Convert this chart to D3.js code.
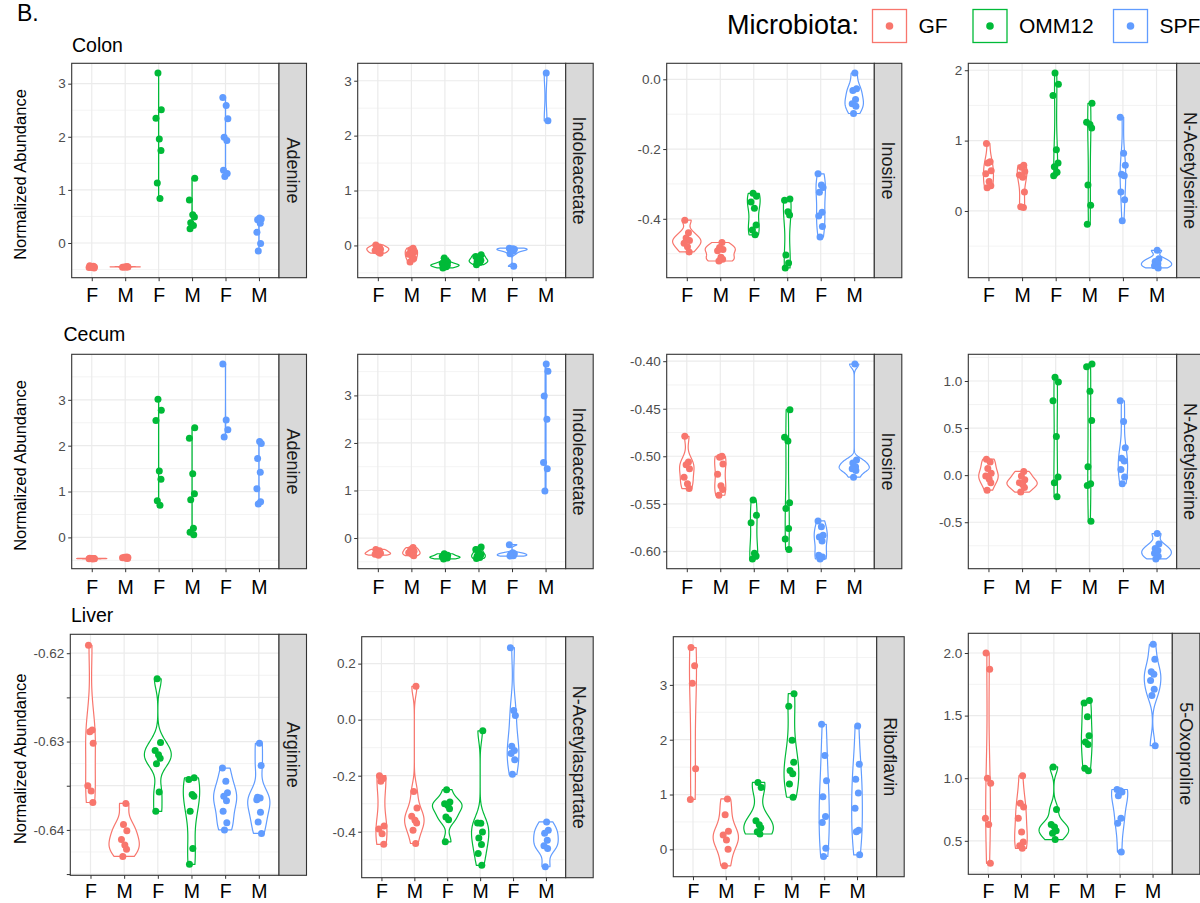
<!DOCTYPE html>
<html><head><meta charset="utf-8">
<script src="https://cdn.jsdelivr.net/npm/d3@7"></script>
<style>body{margin:0;background:#fff} svg{display:block} text{font-family:"Liberation Sans",Arial,Helvetica,sans-serif}</style>
</head><body><svg id="chart" width="1200" height="903"></svg>
<script>
const tissues = ["Colon", "Cecum", "Liver"];
const microbiota = ["GF", "OMM12", "SPF"];
const sexes = ["F", "M"];
const colors = ["#F8766D", "#00BA38", "#619CFF"];
const metabolites = [
  ["Adenine", "Indoleacetate", "Inosine", "N-Acetylserine"],
  ["Adenine", "Indoleacetate", "Inosine", "N-Acetylserine"],
  ["Arginine", "N-Acetylaspartate", "Riboflavin", "5-Oxoproline"]
];

// groups in order: GF-F, GF-M, OMM12-F, OMM12-M, SPF-F, SPF-M
const colonAdenine = [
  [-0.43,-0.44,-0.45,-0.45,-0.46,-0.46,-0.47],
  [-0.445,-0.45,-0.45,-0.455,-0.45,-0.445],
  [3.2,2.51,2.35,1.96,1.74,1.13,0.84],
  [1.22,0.81,0.53,0.49,0.38,0.33,0.27],
  [2.74,2.59,2.34,1.99,1.93,1.37,1.31,1.25],
  [0.47,0.45,0.44,0.37,0.2,-0.01,-0.15]
];
const colonIndoleacetate = [
  [0.01,-0.03,-0.05,-0.07,-0.09,-0.12,-0.14],
  [-0.05,-0.08,-0.12,-0.16,-0.2,-0.24,-0.3],
  [-0.23,-0.3,-0.33,-0.35,-0.36,-0.37,-0.39,-0.41],
  [-0.17,-0.2,-0.24,-0.27,-0.29,-0.31,-0.35],
  [-0.05,-0.06,-0.07,-0.08,-0.1,-0.15,-0.38],
  [3.14,2.27]
];
const colonInosine = [
  [-0.404,-0.44,-0.455,-0.462,-0.47,-0.48,-0.495],
  [-0.468,-0.482,-0.488,-0.492,-0.51,-0.516,-0.521],
  [-0.327,-0.335,-0.352,-0.37,-0.418,-0.432,-0.446],
  [-0.343,-0.347,-0.38,-0.389,-0.504,-0.527,-0.541],
  [-0.271,-0.303,-0.31,-0.324,-0.381,-0.392,-0.422,-0.452],
  [0.018,-0.027,-0.032,-0.058,-0.07,-0.077,-0.098]
];
const colonAcetylserine = [
  [0.96,0.7,0.68,0.57,0.53,0.42,0.36,0.33],
  [0.65,0.62,0.56,0.51,0.48,0.27,0.06,0.05],
  [1.96,1.8,1.64,0.87,0.68,0.63,0.55,0.5],
  [1.53,1.26,1.23,1.18,0.37,0.08,-0.19],
  [1.33,0.82,0.65,0.52,0.5,0.27,0.16,-0.14],
  [-0.56,-0.68,-0.72,-0.75,-0.78,-0.81]
];
const cecumAdenine = [
  [-0.455,-0.46,-0.46,-0.465,-0.465,-0.47,-0.46],
  [-0.425,-0.435,-0.44,-0.445,-0.455,-0.46],
  [3.01,2.77,2.55,1.45,1.27,0.8,0.7],
  [2.39,2.16,1.39,0.95,0.82,0.2,0.11,0.06],
  [3.78,2.56,2.35,2.19],
  [2.09,2.05,1.72,1.42,1.06,0.78,0.73]
];
const cecumIndoleacetate = [
  [-0.24,-0.27,-0.3,-0.32,-0.34,-0.36],
  [-0.2,-0.24,-0.28,-0.31,-0.34,-0.37],
  [-0.33,-0.36,-0.39,-0.4,-0.42,-0.44],
  [-0.19,-0.24,-0.31,-0.35,-0.38,-0.41,-0.43],
  [-0.14,-0.31,-0.33,-0.35,-0.37,-0.38],
  [3.66,3.51,2.99,2.5,1.59,1.46,0.99]
];
const cecumInosine = [
  [-0.479,-0.506,-0.509,-0.513,-0.522,-0.529,-0.534],
  [-0.5,-0.501,-0.508,-0.519,-0.531,-0.535,-0.541],
  [-0.546,-0.562,-0.57,-0.602,-0.605,-0.608],
  [-0.451,-0.48,-0.484,-0.549,-0.555,-0.576,-0.587,-0.598],
  [-0.568,-0.574,-0.583,-0.585,-0.589,-0.604,-0.606,-0.608],
  [-0.403,-0.504,-0.507,-0.511,-0.513,-0.515,-0.522]
];
const cecumAcetylserine = [
  [0.17,0.14,0.07,0.02,-0.01,-0.04,-0.08,-0.16],
  [0.04,-0.01,-0.05,-0.08,-0.1,-0.13,-0.18],
  [1.04,0.99,0.79,0.41,-0.02,-0.08,-0.23],
  [1.18,1.15,0.89,0.58,0.09,-0.09,-0.11,-0.49],
  [0.79,0.57,0.29,0.18,0.15,0.06,-0.02,-0.09],
  [-0.62,-0.73,-0.78,-0.8,-0.83,-0.86,-0.89]
];
const liverArginine = [
  [-0.6191,-0.6287,-0.6289,-0.6302,-0.635,-0.6356,-0.6369],
  [-0.637,-0.6394,-0.6401,-0.6411,-0.6417,-0.6422,-0.643],
  [-0.6229,-0.6301,-0.631,-0.6315,-0.6319,-0.6325,-0.6357,-0.6379],
  [-0.6341,-0.6343,-0.636,-0.6362,-0.6379,-0.6421,-0.6439],
  [-0.633,-0.6345,-0.6358,-0.6362,-0.6367,-0.6379,-0.6392,-0.64],
  [-0.6302,-0.6327,-0.6363,-0.6364,-0.6366,-0.638,-0.6391,-0.6404]
];
const liverAcetylaspartate = [
  [-0.2,-0.21,-0.22,-0.38,-0.39,-0.407,-0.445],
  [0.119,-0.256,-0.315,-0.345,-0.359,-0.369,-0.395,-0.442],
  [-0.25,-0.294,-0.3,-0.306,-0.318,-0.347,-0.357,-0.436],
  [-0.04,-0.369,-0.37,-0.401,-0.422,-0.446,-0.478,-0.52],
  [0.257,0.033,0.015,-0.095,-0.11,-0.121,-0.143,-0.195],
  [-0.365,-0.395,-0.405,-0.43,-0.45,-0.46,-0.525]
];
const liverRiboflavin = [
  [3.68,3.35,3.03,1.47,0.91],
  [0.92,0.63,0.33,0.26,0.17,0.0,-0.3],
  [1.22,1.13,0.52,0.45,0.39,0.32,0.28],
  [2.84,2.61,1.99,1.59,1.44,1.38,1.19,0.95],
  [2.28,1.71,1.25,0.96,0.6,0.49,0.02,-0.13],
  [2.25,1.55,1.28,1.03,0.75,0.35,0.32,-0.1]
];
const liverOxoproline = [
  [2.0,1.87,1.0,0.96,0.68,0.63,0.32],
  [1.02,0.8,0.77,0.68,0.57,0.49,0.46,0.44],
  [1.09,0.75,0.63,0.61,0.58,0.56,0.51],
  [1.62,1.6,1.49,1.34,1.29,1.27,1.08,1.06],
  [0.91,0.9,0.89,0.86,0.68,0.64,0.41],
  [2.07,1.95,1.85,1.83,1.78,1.71,1.66,1.26]
];

// y-axis tick values and labels
const ticksInt03 = [0, 1, 2, 3];
const labelsInt03 = ["0", "1", "2", "3"];
const colonInosineTicks = [-0.4, -0.2, 0.0];
const colonInosineLabels = ["-0.4", "-0.2", "0.0"];
const colonAcetylserineTicks = [0, 1, 2];
const colonAcetylserineLabels = ["0", "1", "2"];
const cecumInosineTicks = [-0.6, -0.55, -0.5, -0.45, -0.4];
const cecumInosineLabels = ["-0.60", "-0.55", "-0.50", "-0.45", "-0.40"];
const cecumAcetylserineTicks = [-0.5, 0, 0.5, 1.0];
const cecumAcetylserineLabels = ["-0.5", "0.0", "0.5", "1.0"];
const liverArginineTicks = [-0.645, -0.64, -0.635, -0.63, -0.625, -0.62];
const liverArginineLabels = ["", "-0.64", "", "-0.63", "", "-0.62"];
const liverAcetylaspartateTicks = [-0.4, -0.2, 0.0, 0.2];
const liverAcetylaspartateLabels = ["-0.4", "-0.2", "0.0", "0.2"];
const liverOxoprolineTicks = [0.5, 1.0, 1.5, 2.0];
const liverOxoprolineLabels = ["0.5", "1.0", "1.5", "2.0"];

const panelData = [
  [colonAdenine, colonIndoleacetate, colonInosine, colonAcetylserine],
  [cecumAdenine, cecumIndoleacetate, cecumInosine, cecumAcetylserine],
  [liverArginine, liverAcetylaspartate, liverRiboflavin, liverOxoproline]
];
const panelTicks = [
  [[ticksInt03, labelsInt03], [ticksInt03, labelsInt03], [colonInosineTicks, colonInosineLabels], [colonAcetylserineTicks, colonAcetylserineLabels]],
  [[ticksInt03, labelsInt03], [ticksInt03, labelsInt03], [cecumInosineTicks, cecumInosineLabels], [cecumAcetylserineTicks, cecumAcetylserineLabels]],
  [[liverArginineTicks, liverArginineLabels], [liverAcetylaspartateTicks, liverAcetylaspartateLabels], [ticksInt03, labelsInt03], [liverOxoprolineTicks, liverOxoprolineLabels]]
];

// layout (pixel boxes of plot panels: x0, x1, y0, y1)
const layout = [
  [[71.7,279,63.3,277.7],[357.7,565.7,63.3,277.7],[666.7,874.3,63.3,277.7],[968.3,1176.7,63.3,277.7]],
  [[71.7,279,354.3,568.7],[357.7,565.7,354.3,568.7],[666.7,874.3,354.3,568.7],[968.3,1176.7,354.3,568.7]],
  [[70.3,279,634.3,875.3],[361.7,565.7,636.7,877.7],[673.3,876.7,636.7,876.7],[968.3,1172.3,633.3,874.3]]
];
const xLabelBaseline = [302, 594, 898];
const titlePos = [[72, 52], [63.5, 341], [71, 622]];
const stripW = 27.5;
const jitter = [-0.06, 0.05, -0.02, 0.08, -0.08, 0.02, 0.07, -0.04, 0.04];

const svg = d3.select("#chart");
svg.append("rect").attr("width", 1200).attr("height", 903).attr("fill", "#fff");

const groupKeys = [];
microbiota.forEach((m, mi) => sexes.forEach(s => groupKeys.push({key: m + "-" + s, sex: s, mi})));

function kde(vals) {
  const s = vals.slice().sort(d3.ascending);
  const n = s.length;
  const sd = d3.deviation(s);
  const iqr = d3.quantile(s, 0.75) - d3.quantile(s, 0.25);
  let lo = Math.min(sd, iqr / 1.34);
  if (!(lo > 0)) lo = sd > 0 ? sd : (Math.abs(s[0]) || 1);
  const bw = 0.9 * lo * Math.pow(n, -0.2);
  const m = 512;
  return d3.range(m).map(i => {
    const y = s[0] + (s[n - 1] - s[0]) * i / (m - 1);
    const d = d3.sum(s, xi => Math.exp(-0.5 * ((y - xi) / bw) ** 2)) / (n * bw * Math.sqrt(2 * Math.PI));
    return {y, d};
  });
}

function drawPanel(r, c) {
  const [x0, x1, y0, y1] = layout[r][c];
  const data = panelData[r][c];
  const [ticks, labels] = panelTicks[r][c];
  const all = data.flat();
  const lo = d3.min(all), hi = d3.max(all);
  const pad = (hi - lo) * 0.05;
  const y = d3.scaleLinear().domain([lo - pad, hi + pad]).range([y1, y0]);
  const x = d3.scalePoint().domain(groupKeys.map(g => g.key)).range([x0, x1]).padding(0.6);
  const step = x.step();
  const g = svg.append("g");

  // grid
  const tstep = ticks[1] - ticks[0];
  const minor = [];
  for (let v = ticks[0] - tstep / 2; v <= hi + pad + 1e-9; v += tstep) if (v >= lo - pad) minor.push(v);
  g.selectAll(".mn").data(minor).join("line")
    .attr("x1", x0).attr("x2", x1).attr("y1", d => y(d)).attr("y2", d => y(d))
    .attr("stroke", "#EBEBEB").attr("stroke-width", 0.6);
  g.selectAll(".mj").data(ticks).join("line")
    .attr("x1", x0).attr("x2", x1).attr("y1", d => y(d)).attr("y2", d => y(d))
    .attr("stroke", "#EBEBEB").attr("stroke-width", 1.2);
  g.selectAll(".vx").data(groupKeys).join("line")
    .attr("x1", d => x(d.key)).attr("x2", d => x(d.key)).attr("y1", y0).attr("y2", y1)
    .attr("stroke", "#EBEBEB").attr("stroke-width", 1.2);

  // violins
  const dens = data.map(kde);
  const maxD = d3.max(dens, a => d3.max(a, p => p.d));
  groupKeys.forEach((gk, i) => {
    const cx = x(gk.key);
    const area = d3.area()
      .y(p => y(p.y))
      .x0(p => cx - 0.45 * step * p.d / maxD)
      .x1(p => cx + 0.45 * step * p.d / maxD);
    g.append("path").datum(dens[i]).attr("d", area)
      .attr("fill", "#fff").attr("stroke", colors[gk.mi]).attr("stroke-width", 1.2)
      .attr("stroke-linejoin", "round");
  });
  groupKeys.forEach((gk, i) => {
    const cx = x(gk.key);
    g.selectAll(null).data(data[i]).join("circle")
      .attr("cx", (d, j) => cx + jitter[(j + i) % jitter.length] * step)
      .attr("cy", d => y(d)).attr("r", 3.5).attr("fill", colors[gk.mi]);
  });

  // border
  g.append("rect").attr("x", x0).attr("y", y0).attr("width", x1 - x0).attr("height", y1 - y0)
    .attr("fill", "none").attr("stroke", "#333333").attr("stroke-width", 1.1);

  // strip
  g.append("rect").attr("x", x1).attr("y", y0).attr("width", stripW).attr("height", y1 - y0)
    .attr("fill", "#D9D9D9").attr("stroke", "#333333").attr("stroke-width", 1.1);
  g.append("text").attr("transform", `translate(${x1 + stripW / 2},${(y0 + y1) / 2}) rotate(90)`)
    .attr("text-anchor", "middle").attr("dominant-baseline", "central")
    .attr("font-size", 18).attr("fill", "#1A1A1A").text(metabolites[r][c]);

  // axes
  const ya = d3.axisLeft(y).tickValues(ticks).tickFormat((d, i) => labels[i]).tickSize(3.5).tickSizeOuter(0).tickPadding(2.5);
  const yg = g.append("g").attr("transform", `translate(${x0},0)`).call(ya);
  yg.select(".domain").remove();
  yg.selectAll("line").attr("stroke", "#333333");
  yg.selectAll("text").attr("font-size", 13.5).attr("fill", "#4D4D4D").attr("font-family", null);

  const xa = d3.axisBottom(x).tickFormat(k => k.split("-")[1]).tickSize(3.5).tickSizeOuter(0);
  const xg = g.append("g").attr("transform", `translate(0,${y1})`).call(xa);
  xg.select(".domain").remove();
  xg.selectAll("line").attr("stroke", "#333333");
  xg.selectAll("text").attr("font-size", 19.5).attr("fill", "#000").attr("font-family", null)
    .attr("dy", null).attr("y", xLabelBaseline[r] - y1);

  if (c === 0) {
    svg.append("text").attr("transform", `translate(19.5,${(y0 + y1) / 2 + 4}) rotate(-90)`)
      .attr("text-anchor", "middle").attr("dominant-baseline", "central")
      .attr("font-size", 16.5).attr("fill", "#000").text("Normalized Abundance");
    svg.append("text").attr("x", titlePos[r][0]).attr("y", titlePos[r][1])
      .attr("font-size", 19.5).attr("fill", "#000").text(tissues[r]);
  }
}

for (let r = 0; r < 3; r++) for (let c = 0; c < 4; c++) drawPanel(r, c);

// panel label
svg.append("text").attr("x", 17).attr("y", 21).attr("font-size", 23).attr("fill", "#000").text("B.");

// legend
svg.append("text").attr("x", 727).attr("y", 34).attr("font-size", 27).attr("fill", "#000").text("Microbiota:");
const legX = [872.5, 973, 1113.5];
microbiota.forEach((m, i) => {
  const lg = svg.append("g");
  lg.append("rect").attr("x", legX[i]).attr("y", 9.5).attr("width", 34).attr("height", 33)
    .attr("fill", "#fff").attr("stroke", colors[i]).attr("stroke-width", 1.3);
  lg.append("circle").attr("cx", legX[i] + 17).attr("cy", 26).attr("r", 3.8).attr("fill", colors[i]);
  lg.append("text").attr("x", legX[i] + 46).attr("y", 33).attr("font-size", 21).attr("fill", "#000").text(m);
});
</script></body></html>
